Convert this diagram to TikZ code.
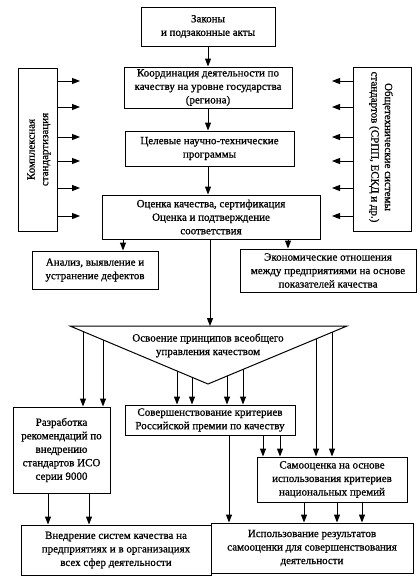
\documentclass[tikz,border=0pt]{standalone}
\usepackage{fontspec}
\setmainfont{Liberation Serif}[FakeBold=0.8]
\usetikzlibrary{arrows.meta,calc}
\newcommand\fsz{\fontsize{11}{13.5}\selectfont}
\begin{document}
\begin{tikzpicture}[x=1pt,y=-1pt,
  box/.style={draw, line width=1pt, inner sep=0pt, align=center, font=\fsz},
  lbl/.style={inner sep=0pt, align=center, font=\fsz},
  arr/.style={line width=1pt, -{Triangle[length=8pt,width=6pt]}},
  ln/.style={line width=1pt}]
\useasboundingbox (0,0) rectangle (420,581);
% main column
\node[box, minimum width=134, minimum height=39] (zak) at (208,26.5) {Законы\\и подзаконные акты};
\node[box, minimum width=168, minimum height=41] (koord) at (208,87.5) {Координация деятельности по\\качеству на уровне государства\\(региона)};
\node[box, minimum width=169, minimum height=35] (cel) at (209.5,148.5) {Целевые научно-технические\\программы};
\node[box, minimum width=218, minimum height=44] (ocen) at (211,217) {Оценка качества, сертификация\\Оценка и подтверждение\\соответствия};
% side boxes
\node[box, minimum width=39, minimum height=163] (lb) at (37.5,149.5) {};
\node[lbl, rotate=90] (lbt) at (39,149.5) {Комплексная\\стандартизация};
\node[box, minimum width=58, minimum height=164] (rb) at (382,149) {};
\node[lbl, rotate=-90] (rbt) at (381,147) {Общетехнические системы\\стандартов (СРПП, ЕСКД и др.)};
% lower boxes
\node[box, minimum width=126, minimum height=38] (anal) at (95,270) {Анализ, выявление и\\устранение дефектов};
\node[box, minimum width=176, minimum height=43] (econ) at (328,270.5) {Экономические отношения\\между предприятиями на основе\\показателей качества};
% triangle
\coordinate (ta) at (70,326);
\coordinate (tb) at (347,326);
\coordinate (tc) at (208,384);
\draw[ln, line join=miter] (ta) -- (tb) -- (tc) -- cycle;
\node[lbl] (trit) at (208,345.5) {Освоение принципов всеобщего\\управления качеством};
\node[box, minimum width=97, minimum height=86] (razr) at (61.5,450) {Разработка\\рекомендаций по\\внедрению\\стандартов ИСО\\серии 9000};
\node[box, minimum width=170, minimum height=30] (sov) at (210,420) {Совершенствование критериев\\Российской премии по качеству};
\node[box, minimum width=150, minimum height=45] (samo) at (332,479.5) {Самооценка на основе\\использования критериев\\национальных премий};
\node[box, minimum width=190, minimum height=50] (vned) at (116,550) {Внедрение систем качества на\\предприятиях и в организациях\\всех сфер деятельности};
\node[box, minimum width=202, minimum height=50] (isp) at (312,548) {Использование результатов\\самооценки для совершенствования\\деятельности};
% main arrows
\draw[arr] (zak.south -| 208,0) -- (koord.north -| 208,0);
\draw[arr] (koord.south -| 208,0) -- (cel.north -| 208,0);
\draw[arr] (cel.south -| 208,0) -- (ocen.north -| 208,0);
\draw[arr] (ocen.south -| 123,0) -- (anal.north -| 123,0);
\draw[arr] (ocen.south -| 288,0) -- (econ.north -| 288,0);
\coordinate (ttop) at (210,326);
\draw[arr] (ocen.south -| ttop) -- (ttop);
% side arrows
\foreach \yy [count=\i] in {81,107,137,161,188,216}{
  \coordinate (la\i) at (80,\yy);
  \draw[arr] (lb.east |- la\i) -- (la\i);
  \coordinate (ra\i) at (332,\yy);
  \draw[arr] (rb.west |- ra\i) -- (ra\i);
}
% from triangle
\coordinate (t1) at (83,331.5);
\coordinate (t2) at (103,339.9);
\coordinate (t3) at (177,371.0);
\coordinate (t4) at (192,377.3);
\coordinate (t5) at (227,376.1);
\coordinate (t6) at (243,369.4);
\coordinate (t7) at (316,338.9);
\coordinate (t8) at (332,332.3);
\draw[arr] (t1) -- (razr.north -| t1);
\draw[arr] (t2) -- (razr.north -| t2);
\draw[arr] (t3) -- (sov.north -| t3);
\draw[arr] (t4) -- (sov.north -| t4);
\draw[arr] (t5) -- (sov.north -| t5);
\draw[arr] (t6) -- (sov.north -| t6);
\draw[arr] (t7) -- (samo.north -| t7);
\draw[arr] (t8) -- (samo.north -| t8);
% lower arrows
\draw[arr] (razr.south -| 48,0) -- (vned.north -| 48,0);
\draw[arr] (razr.south -| 89,0) -- (vned.north -| 89,0);
\draw[arr] (sov.south -| 263,0) -- (samo.north -| 263,0);
\draw[arr] (sov.south -| 280,0) -- (samo.north -| 280,0);
\draw[arr] (sov.south -| 229,0) -- (isp.north -| 229,0);
\draw[arr] (samo.south -| 304,0) -- (isp.north -| 304,0);
\draw[arr] (samo.south -| 337,0) -- (isp.north -| 337,0);
\draw[arr] (samo.south -| 362,0) -- (isp.north -| 362,0);
\end{tikzpicture}
\end{document}
